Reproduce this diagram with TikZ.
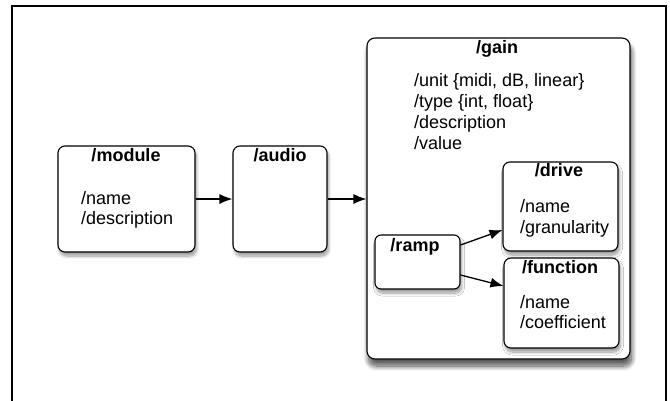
\documentclass[tikz,border=0pt]{standalone}
\usepackage{fontspec}
\setmainfont{Liberation Sans}
\usetikzlibrary{arrows.meta,shadows.blur}

\tikzset{
  box/.style={draw, line width=1.1pt, fill=white, rounded corners=7pt, inner sep=0pt,
    blur shadow={shadow xshift=1.5pt, shadow yshift=-4pt, shadow blur steps=10, shadow blur radius=3pt}},
  bigbox/.style={box, rounded corners=8pt,
    blur shadow={shadow xshift=1.5pt, shadow yshift=-7pt, shadow blur steps=12, shadow blur radius=5pt}},
  title/.style={font=\fontsize{18}{21}\selectfont\bfseries, inner sep=0pt, anchor=base},
  entry/.style={font=\fontsize{18}{21}\selectfont, inner sep=0pt, anchor=base west},
  link/.style={-{Latex[length=13pt,width=10pt]}, line width=1.3pt}
}

\begin{document}
\begin{tikzpicture}[x=1pt, y=-1pt]
		\useasboundingbox (0,0) rectangle (670,400);
		% outer frame
		\draw[line width=2.5pt] (12,402) -- (12,6) -- (666,6) -- (666,402);

		% boxes
		\node[box, minimum width=137pt, minimum height=106pt] (module) at (126.5,199) {};
		\node[box, minimum width=94pt, minimum height=106pt] (audio) at (280,199) {};
		\node[bigbox, minimum width=263pt, minimum height=321pt] (gain) at (498.5,198.5) {};
		\node[box, minimum width=115pt, minimum height=89pt] (drive) at (560.5,206.5) {};
		\node[box, minimum width=115pt, minimum height=90pt] (function) at (561.5,303) {};
		\node[box, minimum width=85pt, minimum height=54pt, rounded corners=6pt] (ramp) at (417.5,262) {};

		% titles
		\node[title] (moduletitle) at (126,161) {/module};
		\node[title] (audiotitle) at (280,161) {/audio};
		\node[title] (gaintitle) at (497,53) {/gain};
		\node[title] (drivetitle) at (559,176) {/drive};
		\node[title] (functiontitle) at (560,273) {/function};
		\node[title] (ramptitle) at (415,251) {/ramp};

		% entries
		\node[entry] (modname) at (81,204) {/name};
		\node[entry] (moddesc) at (81,224) {/description};
		\node[entry] (gainunit) at (414,86) {/unit \{midi, dB, linear\}};
		\node[entry] (gaintype) at (414,107) {/type \{int, float\}};
		\node[entry] (gaindesc) at (414,128) {/description};
		\node[entry] (gainvalue) at (414,149) {/value};
		\node[entry] (drivename) at (520,212) {/name};
		\node[entry] (drivegran) at (520,233) {/granularity};
		\node[entry] (funcname) at (520,308) {/name};
		\node[entry] (funccoef) at (520,328) {/coefficient};

		% connectors
		\draw[link] (module.east) -- (audio.west);
		\draw[link] (audio.east) -- (gain.west |- audio.east);
		\draw[link] ([yshift=17pt]ramp.east) -- ([yshift=-23.5pt]drive.west);
		\draw[link] ([yshift=-13pt]ramp.east) -- ([yshift=17pt]function.west);
	\end{tikzpicture}
\end{document}
